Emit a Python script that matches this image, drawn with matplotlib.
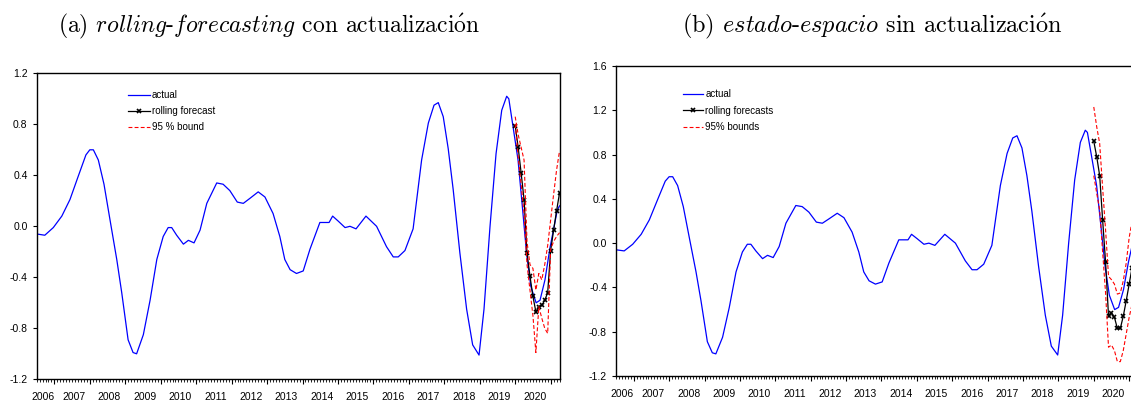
import matplotlib
matplotlib.use("Agg")
import matplotlib.pyplot as plt
import matplotlib.transforms as mtransforms
from matplotlib.ticker import FixedLocator, MultipleLocator

plt.rcParams["mathtext.fontset"] = "cm"
plt.rcParams["axes.formatter.use_mathtext"] = True
plt.rcParams["font.family"] = ["Liberation Sans Narrow", "Liberation Sans", "DejaVu Sans"]

# serie observada (años fraccionarios, mensual jul-2006 .. abr-2021)
ACTUAL_T = [2006.50, 2006.73, 2006.97, 2007.21, 2007.44, 2007.67, 2007.89, 2008.00,
            2008.10, 2008.24, 2008.40, 2008.57, 2008.76, 2008.90, 2009.08, 2009.22,
            2009.32, 2009.51, 2009.70, 2009.89, 2010.07, 2010.21, 2010.31, 2010.45,
            2010.64, 2010.78, 2010.94, 2011.11, 2011.30, 2011.58, 2011.76, 2011.95,
            2012.16, 2012.33, 2012.52, 2012.75, 2012.94, 2013.17, 2013.36, 2013.50,
            2013.65, 2013.83, 2014.02, 2014.21, 2014.49, 2014.75, 2014.85, 2015.01,
            2015.20, 2015.34, 2015.51, 2015.79, 2016.09, 2016.37, 2016.56, 2016.70,
            2016.89, 2017.12, 2017.36, 2017.55, 2017.71, 2017.83, 2017.97, 2018.11,
            2018.25, 2018.44, 2018.63, 2018.80, 2018.98, 2019.12, 2019.29, 2019.46,
            2019.62, 2019.76, 2019.82, 2019.94, 2020.08, 2020.21, 2020.32, 2020.44,
            2020.59, 2020.70, 2020.84, 2020.98, 2021.19, 2021.25]
ACTUAL = [-0.06, -0.07, -0.01, 0.08, 0.21, 0.39, 0.56, 0.60,
          0.60, 0.52, 0.33, 0.05, -0.26, -0.52, -0.89, -0.99,
          -1.00, -0.85, -0.58, -0.26, -0.08, -0.01, -0.01, -0.07,
          -0.14, -0.11, -0.13, -0.03, 0.18, 0.34, 0.33, 0.28,
          0.19, 0.18, 0.22, 0.27, 0.23, 0.10, -0.08, -0.26,
          -0.34, -0.37, -0.35, -0.18, 0.03, 0.03, 0.08, 0.04,
          -0.01, 0.00, -0.02, 0.08, 0.00, -0.16, -0.24, -0.24,
          -0.19, -0.02, 0.52, 0.81, 0.95, 0.97, 0.86, 0.61,
          0.29, -0.21, -0.65, -0.93, -1.01, -0.65, 0.00, 0.57,
          0.91, 1.02, 1.00, 0.78, 0.52, 0.13, -0.21, -0.47,
          -0.60, -0.58, -0.42, -0.17, 0.13, 0.16]

# pronósticos mensuales ene-2020 .. abr-2021
FCST_MONTHS = ["2020-01", "2020-02", "2020-03", "2020-04", "2020-05", "2020-06",
               "2020-07", "2020-08", "2020-09", "2020-10", "2020-11", "2020-12",
               "2021-01", "2021-02", "2021-03", "2021-04"]

# (a) rolling-forecasting con actualización
FCST_A = [0.79, 0.62, 0.42, 0.21, -0.21, -0.39, -0.55, -0.67,
          -0.63, -0.62, -0.58, -0.52, -0.19, -0.03, 0.12, 0.26]
UPPER_A = [0.86, 0.72, 0.62, 0.52, -0.12, -0.30, -0.33, -0.50,
           -0.37, -0.42, -0.30, -0.15, 0.05, 0.25, 0.44, 0.59]
LOWER_A = [0.80, 0.55, 0.33, 0.10, -0.30, -0.50, -0.70, -0.99,
           -0.63, -0.72, -0.80, -0.84, -0.18, -0.12, -0.08, -0.05]

# (b) estado-espacio sin actualización
FCST_B = [0.92, 0.78, 0.61, 0.21, -0.17, -0.66, -0.63, -0.67,
          -0.77, -0.77, -0.66, -0.52, -0.37, -0.22, -0.08, 0.05]
UPPER_B = [1.23, 1.05, 0.90, 0.50, 0.12, -0.30, -0.33, -0.37,
           -0.46, -0.45, -0.34, -0.18, 0.05, 0.20, 0.35, 0.50]
LOWER_B = [0.61, 0.45, 0.30, -0.08, -0.45, -0.94, -0.92, -0.97,
           -1.07, -1.07, -0.97, -0.82, -0.67, -0.55, -0.40, -0.30]

YEARS = list(range(2006, 2021))
YTICKS_A = [-1.2, -0.8, -0.4, 0.0, 0.4, 0.8, 1.2]
YTICKS_B = [-1.2, -0.8, -0.4, 0.0, 0.4, 0.8, 1.2, 1.6]

FS = 7.5
FS_LEG = 7


def month_to_year(s):
    y, m = s.split("-")
    return int(y) + (int(m) - 1) / 12


def style_axes(ax, ylim, yticks):
    ax.set_xlim(2006.5, 2021.25)
    ax.set_ylim(*ylim)
    ax.set_yticks(yticks)
    ax.set_yticklabels([f"{v:.1f}" for v in yticks])
    ax.xaxis.set_major_locator(FixedLocator(range(2007, 2022)))
    ax.xaxis.set_minor_locator(MultipleLocator(1 / 12))
    ax.set_xticklabels([])
    ax.tick_params(axis="x", which="major", length=3.5, width=0.8, direction="out")
    ax.tick_params(axis="x", which="minor", length=1.8, width=0.6, direction="out")
    ax.tick_params(axis="y", length=3, width=0.8, pad=3.5, labelsize=FS)
    for sp in ax.spines.values():
        sp.set_linewidth(1.0)
    trans = mtransforms.blended_transform_factory(ax.transData, ax.transAxes)
    for y in YEARS:
        xpos = 2006.68 if y == 2006 else y + 0.55
        ax.annotate(str(y), (xpos, 0), xycoords=trans, xytext=(0, -9),
                    textcoords="offset points", ha="center", va="top", fontsize=FS)


def draw(ax, fc, up, lo, labels):
    ft = [month_to_year(m) for m in FCST_MONTHS]
    ax.plot(ACTUAL_T, ACTUAL, color="#0000ff", lw=0.9, label=labels[0])
    ax.plot(ft, fc, color="black", lw=0.9, marker="x", ms=3.5, mew=1.2, label=labels[1])
    ax.plot(ft, up, color="#ff0000", lw=0.8, ls=(0, (3.5, 2)), label=labels[2])
    ax.plot(ft, lo, color="#ff0000", lw=0.8, ls=(0, (3.5, 2)))


fig = plt.figure(figsize=(11.31, 4.01), dpi=100)

ax1 = fig.add_axes([0.0324, 0.0541, 0.4623, 0.7631])
draw(ax1, FCST_A, UPPER_A, LOWER_A, ["actual", "rolling forecast", "95 % bound"])
style_axes(ax1, (-1.2, 1.2), YTICKS_A)
ax1.legend(loc="upper left", bbox_to_anchor=(0.175, 0.945), frameon=False, fontsize=FS_LEG,
           borderpad=0, borderaxespad=0, handlelength=2.2, handletextpad=0.25,
           labelspacing=0.62, numpoints=1)

ax2 = fig.add_axes([0.5447, 0.0623, 0.4615, 0.7731])
draw(ax2, FCST_B, UPPER_B, LOWER_B, ["actual", "rolling forecasts", "95% bounds"])
style_axes(ax2, (-1.2, 1.6), YTICKS_B)
ax2.legend(loc="upper left", bbox_to_anchor=(0.128, 0.925), frameon=False, fontsize=FS_LEG,
           borderpad=0, borderaxespad=0, handlelength=2.05, handletextpad=0.25,
           labelspacing=0.68, numpoints=1)

title_font = ["cmr10", "DejaVu Serif"]
fig.text(0.238, 0.935,
         r"(a) $\mathit{rolling}$-$\mathit{forecasting}$ con actualizaci$\mathrm{\acute{o}}$n",
         ha="center", va="center", fontsize=17, family=title_font)
fig.text(0.771, 0.935,
         r"(b) $\mathit{estado}$-$\mathit{espacio}$ sin actualizaci$\mathrm{\acute{o}}$n",
         ha="center", va="center", fontsize=17.5, family=title_font)

fig.savefig("out.png", dpi=100)
